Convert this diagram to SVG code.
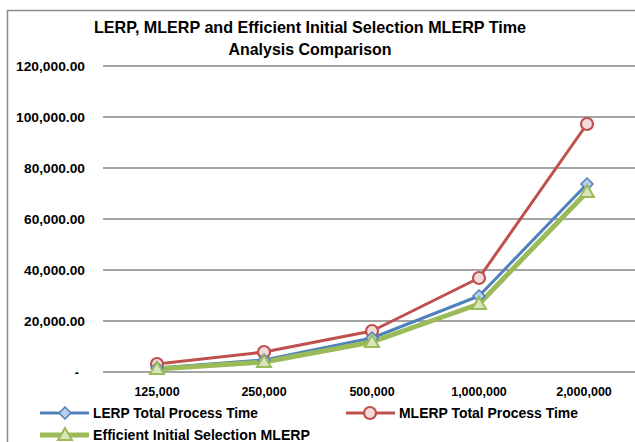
<svg xmlns="http://www.w3.org/2000/svg" width="635" height="442" viewBox="0 0 635 442">
<style>
text{font-family:"Liberation Sans",Arial,sans-serif;font-weight:bold;fill:#000}
.title{font-size:16.5px}
.ylab{font-size:12.5px;text-anchor:end}
.xlab{font-size:12.5px;text-anchor:middle}
.leg{font-size:14.5px}
.grid{stroke:#868686;stroke-width:1.5}
.lerp{fill:none;stroke:#4F81BD;stroke-width:3;stroke-linejoin:round}
.mlerp{fill:none;stroke:#C0504D;stroke-width:3;stroke-linejoin:round}
.eff{fill:none;stroke:#9BBB59;stroke-width:5;stroke-linejoin:round}
.dm{fill:#B9CDE5;stroke:#4F81BD;stroke-width:1.5}
.cm{fill:#F2DCDB;stroke:#C0504D;stroke-width:2.2}
.tm{fill:#D7E4BD;stroke:#9BBB59;stroke-width:2}
</style>
<defs>
<path id="dia" d="M0,-6 L6,0 L0,6 L-6,0 Z" class="dm"/>
<circle id="cir" r="6" class="cm"/>
<path id="tri" d="M0,-7 L7,5 L-7,5 Z" class="tm"/>
</defs>
<rect width="635" height="442" fill="#fff"/>
<path d="M7.5,442 V10.5 H640" fill="none" stroke="#8c8c8c" stroke-width="1.5"/>
<g id="title">
<text class="title" x="310" y="33" text-anchor="middle" textLength="432" lengthAdjust="spacingAndGlyphs">LERP, MLERP and Efficient Initial Selection MLERP Time</text>
<text class="title" x="310" y="55" text-anchor="middle" textLength="163" lengthAdjust="spacingAndGlyphs">Analysis Comparison</text>
</g>
<g id="gridlines">
<line class="grid" x1="103" y1="66" x2="635" y2="66"/>
<line class="grid" x1="103" y1="117" x2="635" y2="117"/>
<line class="grid" x1="103" y1="168" x2="635" y2="168"/>
<line class="grid" x1="103" y1="219" x2="635" y2="219"/>
<line class="grid" x1="103" y1="270" x2="635" y2="270"/>
<line class="grid" x1="103" y1="321" x2="635" y2="321"/>
<line class="grid" x1="103" y1="372" x2="635" y2="372"/>
</g>
<g id="y-axis">
<text class="ylab" x="85" y="71" textLength="69" lengthAdjust="spacingAndGlyphs">120,000.00</text>
<text class="ylab" x="85" y="122" textLength="69" lengthAdjust="spacingAndGlyphs">100,000.00</text>
<text class="ylab" x="85" y="173" textLength="61" lengthAdjust="spacingAndGlyphs">80,000.00</text>
<text class="ylab" x="85" y="224" textLength="61" lengthAdjust="spacingAndGlyphs">60,000.00</text>
<text class="ylab" x="85" y="275" textLength="61" lengthAdjust="spacingAndGlyphs">40,000.00</text>
<text class="ylab" x="85" y="326" textLength="61" lengthAdjust="spacingAndGlyphs">20,000.00</text>
<text class="ylab" x="79" y="377">-</text>
</g>
<g id="x-axis">
<text class="xlab" x="157" y="396">125,000</text>
<text class="xlab" x="264" y="396">250,000</text>
<text class="xlab" x="372" y="396">500,000</text>
<text class="xlab" x="479" y="396">1,000,000</text>
<text class="xlab" x="584" y="396">2,000,000</text>
</g>
<g id="connectors">
<polyline class="mlerp" points="157,364 264,352 372,331 479,278 587,124"/>
<polyline class="lerp" points="157,368 264,360 372,338 479,296 587,184"/>
<polyline class="eff" points="157,369 264,362 372,342 479,304 587,192"/>
</g>
<g id="series-mlerp">
<use href="#cir" x="157" y="364"/><use href="#cir" x="264" y="352"/><use href="#cir" x="372" y="331"/><use href="#cir" x="479" y="278"/><use href="#cir" x="587" y="124"/>
</g>
<g id="series-lerp">
<use href="#dia" x="157" y="368"/><use href="#dia" x="264" y="360"/><use href="#dia" x="372" y="338"/><use href="#dia" x="479" y="296"/><use href="#dia" x="587" y="184"/>
</g>
<g id="series-eff">
<use href="#tri" x="157" y="369"/><use href="#tri" x="264" y="362"/><use href="#tri" x="372" y="342"/><use href="#tri" x="479" y="304"/><use href="#tri" x="587" y="192"/>
</g>
<g id="legend">
<line class="lerp" x1="40" y1="413" x2="89" y2="413"/><use href="#dia" x="65" y="413"/>
<text class="leg" x="93" y="418" textLength="165" lengthAdjust="spacingAndGlyphs">LERP Total Process Time</text>
<line class="mlerp" x1="346" y1="413" x2="395" y2="413"/><use href="#cir" x="370" y="413"/>
<text class="leg" x="399" y="418" textLength="179" lengthAdjust="spacingAndGlyphs">MLERP Total Process Time</text>
<line class="eff" x1="40" y1="435" x2="89" y2="435"/><use href="#tri" x="65" y="435"/>
<text class="leg" x="93" y="440" textLength="217" lengthAdjust="spacingAndGlyphs">Efficient Initial Selection MLERP</text>
</g>
</svg>
